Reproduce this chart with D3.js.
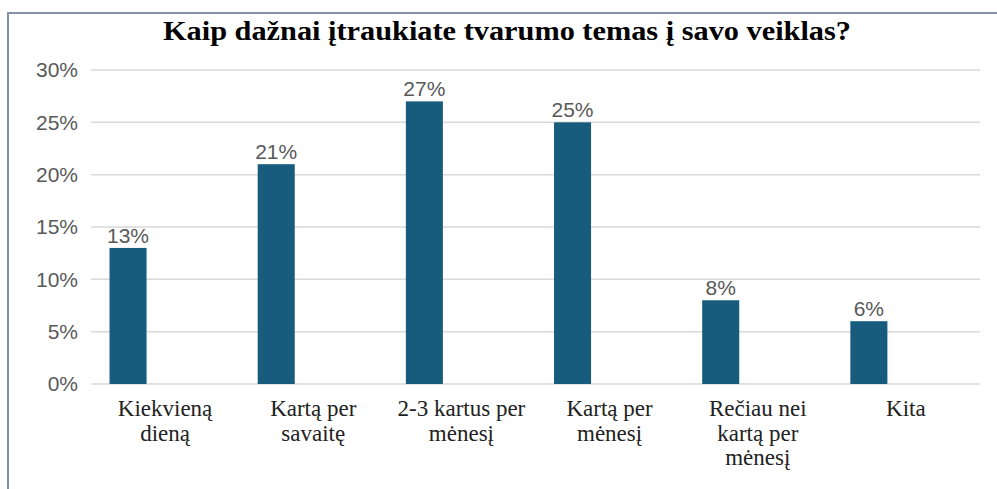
<!doctype html>
<html>

<head>
  <meta charset="utf-8">
  <title>Kaip dažnai įtraukiate tvarumo temas į savo veiklas?</title>
  <style>
    html,
    body {
      margin: 0;
      padding: 0;
      background: #fff;
    }

    #chart svg {
      display: block;
    }

    .title {
      font-family: "Liberation Serif", "Times New Roman", serif;
      font-weight: 700;
      font-size: 28px;
      fill: #000;
    }

    .y-axis text {
      font-family: "Liberation Sans", Arial, sans-serif;
      font-size: 21px;
      fill: #595959;
    }

    .x-label {
      font-family: "Liberation Serif", "Times New Roman", serif;
      font-size: 23px;
      fill: #222;
    }

    .value-label {
      font-family: "Liberation Sans", Arial, sans-serif;
      font-size: 21px;
      fill: #595959;
    }
  </style>
</head>

<body>
  <div id="chart"></div>
  <script src="https://d3js.org/d3.v7.min.js"></script>
  <script>
    // duomenys
    const categories = ['Kiekvieną dieną', 'Kartą per savaitę', '2-3 kartus per mėnesį',
      'Kartą per mėnesį', 'Rečiau nei kartą per mėnesį', 'Kita'];
    const categoryLines = [
      ['Kiekvieną', 'dieną'],
      ['Kartą per', 'savaitę'],
      ['2-3 kartus per', 'mėnesį'],
      ['Kartą per', 'mėnesį'],
      ['Rečiau nei', 'kartą per', 'mėnesį'],
      ['Kita']
    ];
    const values = [13, 21, 27, 25, 8, 6];
    const yTicks = [0, 5, 10, 15, 20, 25, 30];

    const width = 997;
    const height = 489;
    const margin = { top: 70, right: 17, bottom: 105, left: 91 };

    const svg = d3.select('#chart').append('svg')
      .attr('width', width)
      .attr('height', height);

    // rėmelis
    svg.append('line')
      .attr('x1', 8).attr('y1', 13).attr('x2', width).attr('y2', 13)
      .attr('stroke', '#8494a6').attr('stroke-width', 2);
    svg.append('line')
      .attr('x1', 8).attr('y1', 12).attr('x2', 8).attr('y2', height)
      .attr('stroke', '#8494a6').attr('stroke-width', 2);

    svg.append('text')
      .attr('class', 'title')
      .attr('x', 507)
      .attr('y', 40)
      .attr('text-anchor', 'middle')
      .attr('textLength', 688)
      .attr('lengthAdjust', 'spacingAndGlyphs')
      .text('Kaip dažnai įtraukiate tvarumo temas į savo veiklas?');

    const x = d3.scaleBand()
      .domain(categories)
      .range([margin.left, width - margin.right])
      .padding(0);

    const y = d3.scaleLinear()
      .domain([0, 30])
      .range([height - margin.bottom, margin.top]);

    // tinklelis
    svg.append('g')
      .selectAll('line')
      .data(yTicks)
      .join('line')
      .attr('x1', margin.left)
      .attr('x2', width - margin.right)
      .attr('y1', d => y(d))
      .attr('y2', d => y(d))
      .attr('stroke', '#d9d9d9')
      .attr('stroke-width', 1.5);

    const yAxis = svg.append('g')
      .attr('class', 'y-axis')
      .attr('transform', `translate(${margin.left},0)`)
      .call(d3.axisLeft(y).tickValues(yTicks).tickFormat(d => d + '%').tickSize(0).tickPadding(13));
    yAxis.select('.domain').remove();

    // stulpeliai: dvi serijos, antroji tuščia -> stulpelis pasislinkęs į kairę
    const barW = x.bandwidth() / 4;
    svg.append('g')
      .selectAll('rect')
      .data(values)
      .join('rect')
      .attr('x', (d, i) => x(categories[i]) + x.bandwidth() / 8)
      .attr('y', d => y(d))
      .attr('width', barW)
      .attr('height', d => y(0) - y(d))
      .attr('fill', '#175c7d');

    svg.append('g')
      .selectAll('text')
      .data(values)
      .join('text')
      .attr('class', 'value-label')
      .attr('x', (d, i) => x(categories[i]) + x.bandwidth() / 8 + barW / 2)
      .attr('y', d => y(d) - 5)
      .attr('text-anchor', 'middle')
      .text(d => d + '%');

    // kategorijų pavadinimai
    const labels = svg.append('g')
      .selectAll('text')
      .data(categoryLines)
      .join('text')
      .attr('class', 'x-label')
      .attr('text-anchor', 'middle')
      .attr('x', (d, i) => x(categories[i]) + x.bandwidth() / 2)
      .attr('y', 416);
    labels.selectAll('tspan')
      .data((d, i) => d.map(t => ({ t, i })))
      .join('tspan')
      .attr('x', d => x(categories[d.i]) + x.bandwidth() / 2)
      .attr('dy', (d, j) => j === 0 ? 0 : 24.5)
      .text(d => d.t);
  </script>
</body>

</html>
